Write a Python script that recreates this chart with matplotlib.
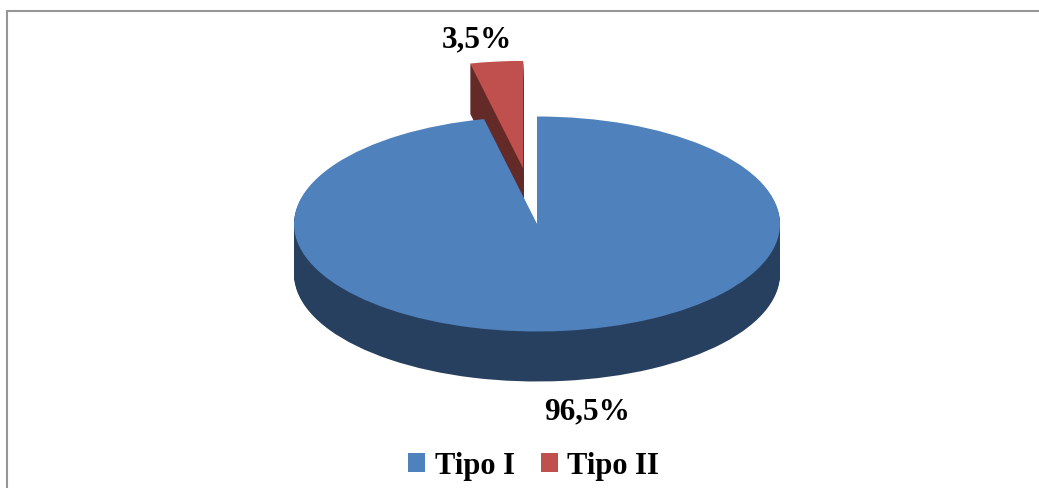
import matplotlib
matplotlib.use("Agg")
import matplotlib.pyplot as plt
from matplotlib.patches import Rectangle, Patch
import numpy as np

categories = ["Tipo I", "Tipo II"]
values = [96.5, 3.5]
value_labels = ["96,5%", "3,5%"]

TOP_COLORS = ["#4F81BD", "#C0504D"]
SIDE_COLORS = ["#284060", "#632A28"]

W, H = 1039, 489
CX, CY, RX, RY = 537, 225, 243, 107.5
DEPTH = 50 / RY
EXPLODE = [0, 0.52]
FONT = "Liberation Serif"

fig = plt.figure(figsize=(W / 100, H / 100), dpi=100)
ax = fig.add_axes([0, 0, 1, 1])

for dz in np.linspace(DEPTH, 0, 51):
    last = dz == 0
    wedges, _ = ax.pie(values, colors=TOP_COLORS if last else SIDE_COLORS,
                       startangle=90, counterclock=False, explode=EXPLODE,
                       center=(0, -dz),
                       wedgeprops=dict(linewidth=0))
    wedges[0].set_zorder(4 if last else 3)
    wedges[1].set_zorder(2 if last else 1)

ax.set_xlim(-CX / RX, (W - CX) / RX)
ax.set_ylim(-(H - CY) / RY, CY / RY)
ax.set_aspect("auto")

fig.add_artist(Rectangle((7 / W, -0.1), (W + 50) / W, 1 + 0.1 - 12 / H,
                         transform=fig.transFigure, fill=False,
                         edgecolor="#969696", linewidth=1.5))

fig.text(587 / W, 1 - 412 / H, value_labels[0], fontfamily=FONT, fontweight="bold",
         fontsize=22.5, ha="center", va="center", color="black")
fig.text(476.5 / W, 1 - 40 / H, value_labels[1], fontfamily=FONT, fontweight="bold",
         fontsize=22.5, ha="center", va="center", color="black")

handles = [Patch(facecolor=c, edgecolor="none") for c in TOP_COLORS]
fig.legend(handles, categories, loc="center", bbox_to_anchor=(533.5 / W, 1 - 467 / H),
           ncol=2, frameon=False, prop=dict(family=FONT, weight="bold", size=22),
           handlelength=0.56, handleheight=0.55, handletextpad=0.3, columnspacing=0.85)

fig.savefig("out.png", dpi=100)
